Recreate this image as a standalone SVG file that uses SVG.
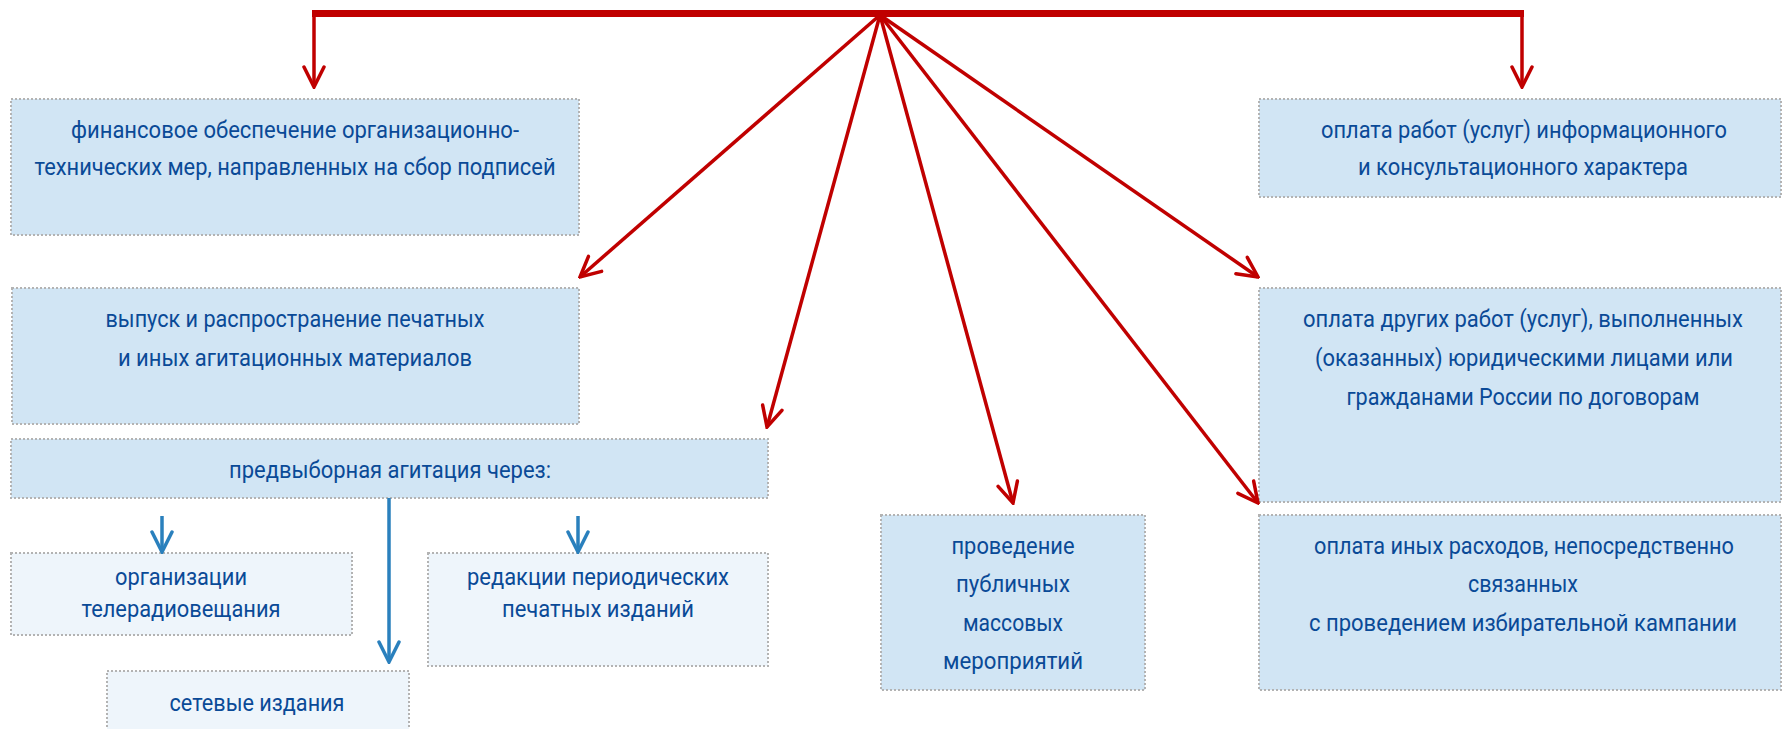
<svg xmlns="http://www.w3.org/2000/svg" width="1783" height="729" viewBox="0 0 1783 729">
<defs>
<style>
.box{fill:#d1e5f4;stroke:#b3b3b3;stroke-width:2;stroke-dasharray:2 2}
.sub{fill:#eef5fb;stroke:#b3b3b3;stroke-width:2;stroke-dasharray:2 2}
.t{font-family:"Liberation Sans Narrow",Roboto,"Open Sans","Liberation Sans",sans-serif;font-size:24px;fill:#0a4a97;text-anchor:middle}
.red{stroke:#c00000;stroke-width:3.5;fill:none}
.blue{stroke:#2a80bd;stroke-width:3.5;fill:none}
</style>
<marker id="ar" markerUnits="userSpaceOnUse" viewBox="-22 -12 24 24" refX="0" refY="0" markerWidth="24" markerHeight="24" orient="auto">
<path d="M-20,-10 L0,0 L-20,10" fill="none" stroke="#c00000" stroke-width="3.5" stroke-linecap="round" stroke-linejoin="miter"/>
</marker>
<marker id="ab" markerUnits="userSpaceOnUse" viewBox="-22 -12 24 24" refX="0" refY="0" markerWidth="24" markerHeight="24" orient="auto">
<path d="M-20,-10 L0,0 L-20,10" fill="none" stroke="#2a80bd" stroke-width="3.5" stroke-linecap="round" stroke-linejoin="miter"/>
</marker>
</defs>
<rect width="1783" height="729" fill="#ffffff"/>

<g id="n-fin">
<rect class="box" x="11" y="99" width="568" height="136"/>
<text class="t" x="295" y="138" textLength="448" lengthAdjust="spacingAndGlyphs">финансовое обеспечение организационно-</text>
<text class="t" x="295" y="175" textLength="521" lengthAdjust="spacingAndGlyphs">технических мер, направленных на сбор подписей</text>
</g>
<g id="n-info">
<rect class="box" x="1259" y="99" width="522" height="98"/>
<text class="t" x="1524" y="138" textLength="406" lengthAdjust="spacingAndGlyphs">оплата работ (услуг) информационного</text>
<text class="t" x="1523" y="175" textLength="330" lengthAdjust="spacingAndGlyphs">и консультационного характера</text>
</g>
<g id="n-print">
<rect class="box" x="12" y="288" width="567" height="136"/>
<text class="t" x="295" y="327" textLength="379" lengthAdjust="spacingAndGlyphs">выпуск и распространение печатных</text>
<text class="t" x="295" y="366" textLength="354" lengthAdjust="spacingAndGlyphs">и иных агитационных материалов</text>
</g>
<g id="n-other">
<rect class="box" x="1259" y="288" width="522" height="214"/>
<text class="t" x="1523" y="327" textLength="440" lengthAdjust="spacingAndGlyphs">оплата других работ (услуг), выполненных</text>
<text class="t" x="1524" y="366" textLength="418" lengthAdjust="spacingAndGlyphs">(оказанных) юридическими лицами или</text>
<text class="t" x="1523" y="405" textLength="353" lengthAdjust="spacingAndGlyphs">гражданами России по договорам</text>
</g>
<g id="n-agit">
<rect class="box" x="11" y="439" width="757" height="59"/>
<text class="t" x="390" y="478" textLength="322" lengthAdjust="spacingAndGlyphs">предвыборная агитация через:</text>
</g>
<g id="n-tv">
<rect class="sub" x="11" y="553" width="341" height="82"/>
<text class="t" x="181" y="585" textLength="132" lengthAdjust="spacingAndGlyphs">организации</text>
<text class="t" x="181" y="617" textLength="199" lengthAdjust="spacingAndGlyphs">телерадиовещания</text>
</g>
<g id="n-press">
<rect class="sub" x="428" y="553" width="340" height="113"/>
<text class="t" x="598" y="585" textLength="262" lengthAdjust="spacingAndGlyphs">редакции периодических</text>
<text class="t" x="598" y="617" textLength="192" lengthAdjust="spacingAndGlyphs">печатных изданий</text>
</g>
<g id="n-net">
<rect class="sub" x="107" y="671" width="302" height="80"/>
<text class="t" x="257" y="711" textLength="175" lengthAdjust="spacingAndGlyphs">сетевые издания</text>
</g>
<g id="n-public">
<rect class="box" x="881" y="515" width="264" height="175"/>
<text class="t" x="1013" y="554" textLength="123" lengthAdjust="spacingAndGlyphs">проведение</text>
<text class="t" x="1013" y="592" textLength="114" lengthAdjust="spacingAndGlyphs">публичных</text>
<text class="t" x="1013" y="631" textLength="100" lengthAdjust="spacingAndGlyphs">массовых</text>
<text class="t" x="1013" y="669" textLength="140" lengthAdjust="spacingAndGlyphs">мероприятий</text>
</g>
<g id="n-misc">
<rect class="box" x="1259" y="515" width="522" height="175"/>
<text class="t" x="1524" y="554" textLength="420" lengthAdjust="spacingAndGlyphs">оплата иных расходов, непосредственно</text>
<text class="t" x="1523" y="592" textLength="110" lengthAdjust="spacingAndGlyphs">связанных</text>
<text class="t" x="1523" y="631" textLength="428" lengthAdjust="spacingAndGlyphs">с проведением избирательной кампании</text>
</g>

<g id="connectors">
<line x1="312" y1="13.5" x2="1524" y2="13.5" stroke="#c00000" stroke-width="7"/>
<path class="red" d="M314,14 L314,87" marker-end="url(#ar)"/>
<path class="red" d="M1522,14 L1522,87" marker-end="url(#ar)"/>
<path class="red" d="M880,15 L580,277" marker-end="url(#ar)"/>
<path class="red" d="M880,15 L767,427" marker-end="url(#ar)"/>
<path class="red" d="M880,15 L1013,503" marker-end="url(#ar)"/>
<path class="red" d="M880,15 L1258,503" marker-end="url(#ar)"/>
<path class="red" d="M880,15 L1258,277" marker-end="url(#ar)"/>
<path class="blue" d="M389,498 L389,662" marker-end="url(#ab)"/>
<path class="blue" d="M162,516 L162,552" marker-end="url(#ab)"/>
<path class="blue" d="M578,516 L578,552" marker-end="url(#ab)"/>
</g>
</svg>
